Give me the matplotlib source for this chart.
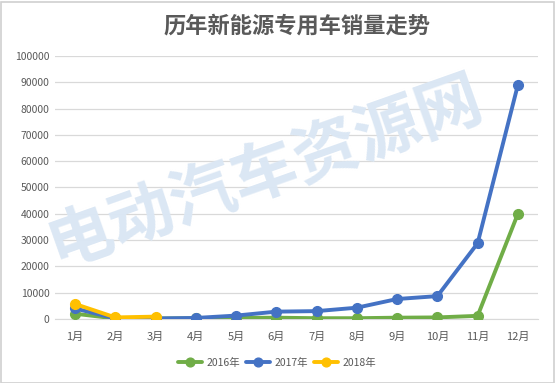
import matplotlib
matplotlib.use("Agg")
import matplotlib.pyplot as plt
from matplotlib.patches import Rectangle

plt.rcParams['font.family'] = ['Noto Sans CJK SC', 'DejaVu Sans']

months = ['1月', '2月', '3月', '4月', '5月', '6月', '7月', '8月', '9月', '10月', '11月', '12月']
sales_2016 = [2000, 200, 200, 300, 400, 500, 300, 300, 500, 600, 1200, 40000]
sales_2017 = [4000, 200, 200, 400, 1300, 2800, 3000, 4300, 7600, 8700, 28800, 89000]
sales_2018 = [5700, 600, 900]
yticks = [0, 10000, 20000, 30000, 40000, 50000, 60000, 70000, 80000, 90000, 100000]
series_labels = ['2016年', '2017年', '2018年']
title = '历年新能源专用车销量走势'
watermark = '电动汽车资源网'

W, H = 555, 383
fig = plt.figure(figsize=(W / 100, H / 100), dpi=100)
fig.patch.set_facecolor('white')

ax = fig.add_axes([55 / W, (H - 319) / H, (538 - 55) / W, (319 - 56) / H])
x = list(range(len(months)))

# watermark
fig.text(265 / W, 1 - 172 / H, watermark, fontsize=47, fontweight='bold',
         color='#dbe7f4', rotation=19.5, ha='center', va='center', zorder=0)

colors = ['#70AD47', '#4472C4', '#FFC000']
for vals, lab, c in zip([sales_2016, sales_2017, sales_2018], series_labels, colors):
    ax.plot(x[:len(vals)], vals, color=c, lw=2.8, marker='o', ms=7,
            label=lab, solid_capstyle='round', zorder=3)

ax.set_xlim(-0.5, len(months) - 0.5)
ax.set_ylim(0, 100000)
ax.set_yticks(yticks)
ax.set_yticklabels([str(v) for v in yticks])
ax.set_xticks(x)
ax.set_xticklabels(months)
ax.patch.set_alpha(0)
ax.grid(axis='y', color='#d9d9d9', lw=0.9, zorder=0)
ax.set_axisbelow(True)
for s in ['top', 'right', 'left']:
    ax.spines[s].set_visible(False)
ax.spines['bottom'].set_color('#d9d9d9')
ax.tick_params(axis='both', length=0, labelsize=7.5, colors='#595959')
ax.tick_params(axis='x', pad=9, labelsize=8)
ax.tick_params(axis='y', pad=4)

ax.set_title(title, fontsize=16, fontweight='bold', color='#595959', pad=17)

leg = fig.legend(loc='center', bbox_to_anchor=(277 / W, 1 - 363 / H), ncol=3,
                 frameon=False, fontsize=7.5, handlelength=2.3, columnspacing=0.6,
                 handletextpad=0.4, markerscale=0.9)
for t in leg.get_texts():
    t.set_color('#595959')

fig.add_artist(Rectangle((0.5 / W, 0.5 / H), (W - 2) / W, (H - 2) / H,
                         transform=fig.transFigure, fill=False,
                         edgecolor='#d0d0d0', lw=1.2))

fig.savefig('out.png', dpi=100)
